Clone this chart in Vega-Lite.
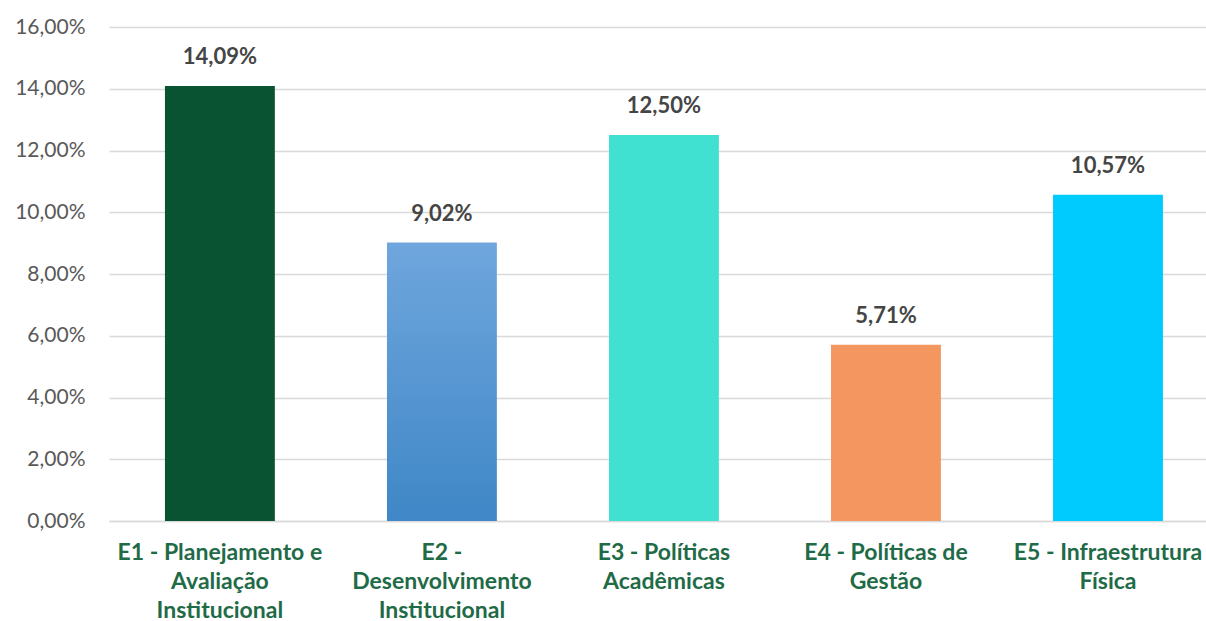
{
  "$schema": "https://vega.github.io/schema/vega-lite/v6.json",
  "width": 1097,
  "height": 494,
  "autosize": {"type": "none"},
  "padding": {"left": 109, "top": 27, "right": 0, "bottom": 100},
  "background": "#ffffff",
  "config": {"view": {"stroke": null}, "font": "Lato"},
  "data": {"values": [
    {"eixo": "E1 - Planejamento e Avaliação Institucional", "valor": 14.09},
    {"eixo": "E2 - Desenvolvimento Institucional", "valor": 9.02},
    {"eixo": "E3 - Políticas Acadêmicas", "valor": 12.50},
    {"eixo": "E4 - Políticas de Gestão", "valor": 5.71},
    {"eixo": "E5 - Infraestrutura Física", "valor": 10.57}
  ]},
  "encoding": {
    "x": {
      "field": "eixo", "type": "nominal", "sort": null,
      "scale": {"paddingInner": 0.505, "paddingOuter": 0.223, "align": 0.565},
      "axis": {
        "title": null, "labelAngle": 0, "ticks": false,
        "domainColor": "#d9d9d9", "domainWidth": 1.5,
        "labelFont": "Lato", "labelFontSize": 23, "labelFontWeight": "bold",
        "labelColor": "#1f6b47", "labelPadding": 20, "labelLineHeight": 29,
        "labelBaseline": "top", "labelLimit": 300,
        "labelExpr": "{'E1 - Planejamento e Avaliação Institucional': ['E1 - Planejamento e', 'Avaliação', 'Institucional'], 'E2 - Desenvolvimento Institucional': ['E2 -', 'Desenvolvimento', 'Institucional'], 'E3 - Políticas Acadêmicas': ['E3 - Políticas', 'Acadêmicas'], 'E4 - Políticas de Gestão': ['E4 - Políticas de', 'Gestão'], 'E5 - Infraestrutura Física': ['E5 - Infraestrutura', 'Física']}[datum.label]"
      }
    },
    "y": {
      "field": "valor", "type": "quantitative",
      "scale": {"domain": [0, 16], "nice": false},
      "axis": {
        "title": null, "values": [0, 2, 4, 6, 8, 10, 12, 14, 16],
        "domain": false, "ticks": false, "gridColor": "#d9d9d9", "gridWidth": 1.5,
        "labelFont": "Lato", "labelFontSize": 21, "labelColor": "#595959",
        "labelPadding": 24,
        "labelExpr": "replace(format(datum.value, '.2f'), '.', ',') + '%'"
      }
    }
  },
  "layer": [
    {
      "mark": {"type": "bar"},
      "encoding": {
        "fill": {
          "condition": {
            "test": "datum.eixo == 'E2 - Desenvolvimento Institucional'",
            "value": {"gradient": "linear", "x1": 0, "y1": 0, "x2": 0, "y2": 1, "stops": [{"offset": 0, "color": "#6fa6dd"}, {"offset": 1, "color": "#3f87c7"}]}
          },
          "field": "eixo", "type": "nominal", "legend": null,
          "scale": {
            "domain": ["E1 - Planejamento e Avaliação Institucional", "E2 - Desenvolvimento Institucional", "E3 - Políticas Acadêmicas", "E4 - Políticas de Gestão", "E5 - Infraestrutura Física"],
            "range": ["#0a5332", "#5596d4", "#41e1d1", "#f3965f", "#00cbff"]
          }
        }
      }
    },
    {
      "mark": {"type": "text", "dy": -17, "baseline": "bottom", "font": "Lato", "fontSize": 22, "fontWeight": "bold", "color": "#454545"},
      "encoding": {
        "text": {"field": "label"}
      },
      "transform": [{"calculate": "replace(format(datum.valor, '.2f'), '.', ',') + '%'", "as": "label"}]
    }
  ]
}
